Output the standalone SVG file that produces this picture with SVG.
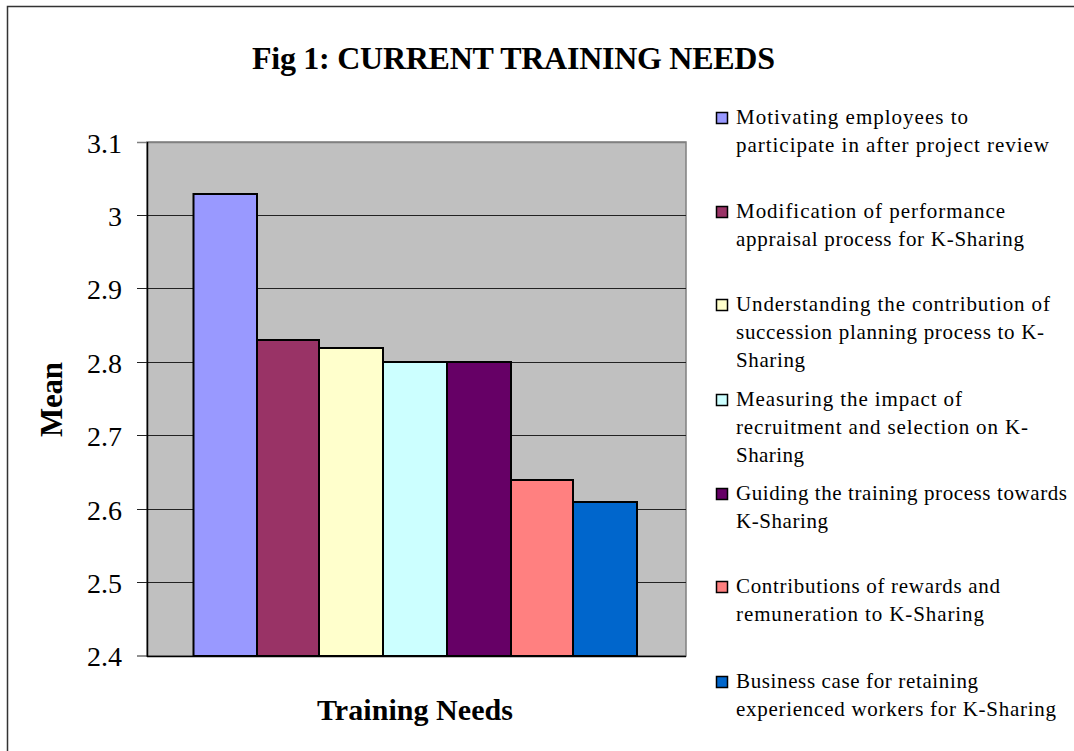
<svg xmlns="http://www.w3.org/2000/svg" width="1074" height="751" viewBox="0 0 1074 751">
<style>
.t{font-family:"Liberation Serif","Times New Roman",serif;fill:#000}
.ax{font-size:28px}
.lg{font-size:21px}
.b{font-weight:bold}
.grid{stroke:#222;stroke-width:1}
.bar{stroke:#000;stroke-width:2}
.mk{stroke:#000;stroke-width:1.5}
</style>
<rect x="0" y="0" width="1074" height="751" fill="#fff"/>
<path d="M7.5,751 V6.5 H1074" fill="none" stroke="#333" stroke-width="1.5"/>
<text class="t b" x="252" y="69" font-size="32" textLength="523" lengthAdjust="spacing">Fig 1: CURRENT TRAINING NEEDS</text>
<g id="plot">
<rect x="147" y="142" width="539" height="514" fill="#C0C0C0" stroke="#808080" stroke-width="1.5"/>
<g class="grid">
<line x1="137" y1="142.5" x2="686" y2="142.5" stroke="#808080" stroke-width="1.5"/>
<line x1="137" y1="215.5" x2="686" y2="215.5"/>
<line x1="137" y1="288.5" x2="686" y2="288.5"/>
<line x1="137" y1="362.5" x2="686" y2="362.5"/>
<line x1="137" y1="435.5" x2="686" y2="435.5"/>
<line x1="137" y1="509.5" x2="686" y2="509.5"/>
<line x1="137" y1="582.5" x2="686" y2="582.5"/>
<line x1="137" y1="656" x2="147" y2="656"/>
</g>
<line x1="147.5" y1="142" x2="147.5" y2="657" stroke="#000" stroke-width="1.5"/>
<g class="t ax" text-anchor="end">
<text x="122" y="153">3.1</text>
<text x="122" y="226">3</text>
<text x="122" y="299">2.9</text>
<text x="122" y="373">2.8</text>
<text x="122" y="446">2.7</text>
<text x="122" y="520">2.6</text>
<text x="122" y="593">2.5</text>
<text x="122" y="666">2.4</text>
</g>
</g>
<g id="bars" class="bar">
<rect id="bar1" x="193.5" y="194" width="63.5" height="462" fill="#9999FF"/>
<rect id="bar2" x="257" y="340" width="62" height="316" fill="#993366"/>
<rect id="bar3" x="319" y="348" width="64" height="308" fill="#FFFFCC"/>
<rect id="bar4" x="383" y="362" width="64" height="294" fill="#CCFFFF"/>
<rect id="bar5" x="447" y="362" width="64" height="294" fill="#660066"/>
<rect id="bar6" x="511" y="480" width="62" height="176" fill="#FF8080"/>
<rect id="bar7" x="573" y="502" width="64" height="154" fill="#0066CC"/>
</g>
<line x1="147" y1="656.5" x2="686" y2="656.5" stroke="#000" stroke-width="1.5"/>
<text class="t b" font-size="31" transform="translate(62,437) rotate(-90)" textLength="75" lengthAdjust="spacing">Mean</text>
<text class="t b" x="317" y="720" font-size="30" textLength="196" lengthAdjust="spacing">Training Needs</text>
<g id="legend" class="t lg">
<g id="lg1"><rect class="mk" x="716.5" y="112.5" width="11" height="11" fill="#9999FF"/><text x="736" y="124" textLength="232" lengthAdjust="spacing">Motivating employees to</text><text x="736" y="152" textLength="313" lengthAdjust="spacing">participate in after project review</text></g>
<g id="lg2"><rect class="mk" x="716.5" y="206.5" width="11" height="11" fill="#993366"/><text x="736" y="218" textLength="269" lengthAdjust="spacing">Modification of performance</text><text x="736" y="246" textLength="288" lengthAdjust="spacing">appraisal process for K-Sharing</text></g>
<g id="lg3"><rect class="mk" x="716.5" y="299.5" width="11" height="11" fill="#FFFFCC"/><text x="736" y="311" textLength="314" lengthAdjust="spacing">Understanding the contribution of</text><text x="736" y="339" textLength="308" lengthAdjust="spacing">succession planning process to K-</text><text x="736" y="367" textLength="69" lengthAdjust="spacing">Sharing</text></g>
<g id="lg4"><rect class="mk" x="716.5" y="394.5" width="11" height="11" fill="#CCFFFF"/><text x="736" y="406" textLength="226" lengthAdjust="spacing">Measuring the impact of</text><text x="736" y="434" textLength="292" lengthAdjust="spacing">recruitment and selection on K-</text><text x="736" y="462" textLength="68" lengthAdjust="spacing">Sharing</text></g>
<g id="lg5"><rect class="mk" x="716.5" y="488.5" width="11" height="11" fill="#660066"/><text x="736" y="500" textLength="331" lengthAdjust="spacing">Guiding the training process towards</text><text x="736" y="528" textLength="92" lengthAdjust="spacing">K-Sharing</text></g>
<g id="lg6"><rect class="mk" x="716.5" y="581.5" width="11" height="11" fill="#FF8080"/><text x="736" y="593" textLength="264" lengthAdjust="spacing">Contributions of rewards and</text><text x="736" y="621" textLength="248" lengthAdjust="spacing">remuneration to K-Sharing</text></g>
<g id="lg7"><rect class="mk" x="716.5" y="676.5" width="11" height="11" fill="#0066CC"/><text x="736" y="688" textLength="242" lengthAdjust="spacing">Business case for retaining</text><text x="736" y="716" textLength="320" lengthAdjust="spacing">experienced workers for K-Sharing</text></g>
</g>
</svg>
